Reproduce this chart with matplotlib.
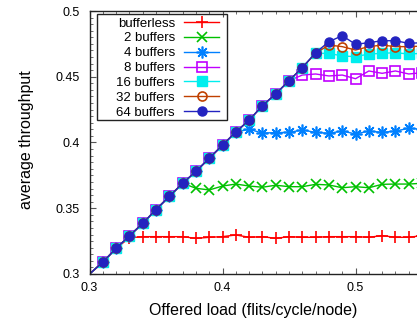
import matplotlib
matplotlib.use("Agg")
import matplotlib.pyplot as plt
from matplotlib.patches import Rectangle
from matplotlib.ticker import MultipleLocator, FormatStrFormatter

plt.rcParams["font.family"] = ["Liberation Sans", "DejaVu Sans"]

offered = [0.30, 0.31, 0.32, 0.33, 0.34, 0.35, 0.36, 0.37, 0.38, 0.39, 0.40, 0.41, 0.42,
           0.43, 0.44, 0.45, 0.46, 0.47, 0.48, 0.49, 0.50, 0.51, 0.52, 0.53, 0.54, 0.55]

bufferless = [0.300, 0.309, 0.3195, 0.3275, 0.3284, 0.3284, 0.3284, 0.3284, 0.3271, 0.3279,
              0.3284, 0.3297, 0.3279, 0.3284, 0.3271, 0.3284, 0.3279, 0.3279, 0.3284, 0.3284,
              0.3284, 0.3279, 0.3292, 0.3279, 0.3279, 0.3292]
buf2 = [0.300, 0.309, 0.3195, 0.329, 0.3385, 0.349, 0.359, 0.369, 0.3652, 0.3639,
        0.3669, 0.3684, 0.3669, 0.366, 0.3675, 0.3664, 0.3664, 0.3682, 0.3677, 0.3656,
        0.3664, 0.3656, 0.3682, 0.3684, 0.3684, 0.369]
buf4 = [0.300, 0.309, 0.3195, 0.329, 0.3385, 0.349, 0.359, 0.369, 0.378, 0.388,
        0.398, 0.408, 0.410, 0.4072, 0.4075, 0.4077, 0.4095, 0.4077, 0.407, 0.4087,
        0.4065, 0.4087, 0.4077, 0.4087, 0.4108, 0.410]
buf8 = [0.300, 0.309, 0.3195, 0.329, 0.3385, 0.349, 0.359, 0.369, 0.378, 0.388,
        0.398, 0.408, 0.417, 0.428, 0.437, 0.447, 0.4513, 0.4521, 0.4506, 0.4513,
        0.4485, 0.4544, 0.4526, 0.4544, 0.4521, 0.4531]
buf16 = [0.300, 0.309, 0.3195, 0.329, 0.3385, 0.349, 0.359, 0.369, 0.378, 0.388,
         0.398, 0.408, 0.417, 0.428, 0.437, 0.447, 0.457, 0.4678, 0.4678, 0.4658,
         0.4653, 0.4673, 0.4678, 0.4683, 0.4673, 0.4678]
buf32 = [0.300, 0.309, 0.3195, 0.329, 0.3385, 0.349, 0.359, 0.369, 0.378, 0.388,
         0.398, 0.408, 0.417, 0.428, 0.437, 0.447, 0.457, 0.468, 0.4741, 0.4729,
         0.4703, 0.4729, 0.4741, 0.4729, 0.4729, 0.4733]
buf64 = [0.300, 0.309, 0.3195, 0.329, 0.3385, 0.349, 0.359, 0.369, 0.378, 0.388,
         0.398, 0.408, 0.417, 0.428, 0.437, 0.447, 0.457, 0.4683, 0.4767, 0.4812,
         0.4747, 0.4759, 0.4774, 0.4774, 0.4754, 0.4759]

series = [
    ("bufferless", bufferless, "#ff0000", "+", dict(ms=8.5, mew=1.2)),
    ("2 buffers", buf2, "#00c000", "x", dict(ms=7.5, mew=1.2)),
    ("4 buffers", buf4, "#0080ff", (8, 2, 0), dict(ms=8.5, mew=1.2)),
    ("8 buffers", buf8, "#c000ff", "s", dict(ms=7, mew=1.2, mfc="none")),
    ("16 buffers", buf16, "#00eeee", "s", dict(ms=7, mew=1.0)),
    ("32 buffers", buf32, "#c04000", "o", dict(ms=6.5, mew=1.2, mfc="none")),
    ("64 buffers", buf64, "#2323c0", "o", dict(ms=6.5, mew=1.0)),
]

fig = plt.figure(figsize=(4.17, 3.23), dpi=100)
ax = fig.add_axes([89.5 / 417, 49 / 323, 327.5 / 417, 263 / 323])

for label, vals, color, marker, kw in series:
    ax.plot(offered, vals, color=color, marker=marker, lw=1.0, label=label,
            markevery=slice(1, None), **kw)

ax.set_xlim(0.3, 0.5462)
ax.set_ylim(0.3, 0.5)
ax.xaxis.set_major_locator(MultipleLocator(0.1))
ax.xaxis.set_minor_locator(MultipleLocator(0.01))
ax.yaxis.set_major_locator(MultipleLocator(0.05))
ax.yaxis.set_minor_locator(MultipleLocator(0.005))
ax.xaxis.set_major_formatter(FormatStrFormatter("%g"))
ax.yaxis.set_major_formatter(FormatStrFormatter("%g"))

ax.spines["right"].set_visible(False)
for s in ["left", "top", "bottom"]:
    ax.spines[s].set_color("#222222")
    ax.spines[s].set_linewidth(1.0)
ax.tick_params(which="both", direction="in", top=True, right=False, colors="#555555",
               labelcolor="black", labelsize=9)
ax.tick_params(which="major", length=4, width=0.8)
ax.tick_params(which="minor", length=2.2, width=0.6)
ax.tick_params(axis="x", pad=6)
ax.tick_params(axis="y", pad=7)

ax.set_xlabel("Offered load (flits/cycle/node)", fontsize=11.5)
ax.set_ylabel("average throughput", fontsize=11.5)
ax.xaxis.set_label_coords(0.5, -0.11)
ax.yaxis.set_label_coords(-0.168, 0.51)

# gnuplot-style key: right-aligned labels, samples on the right, wide left margin
leg = ax.legend(loc="upper right", bbox_to_anchor=(0.3954, 0.976), borderaxespad=0,
                markerfirst=False, fontsize=9.5, handlelength=2.65, handletextpad=0.68,
                labelspacing=0.2, borderpad=0, frameon=False)
ax.add_patch(Rectangle((0.0229, 0.5856), 0.3969, 0.403, transform=ax.transAxes,
                       fill=False, edgecolor="#222222", lw=1.0, zorder=5))

fig.savefig("out.png", dpi=100)
